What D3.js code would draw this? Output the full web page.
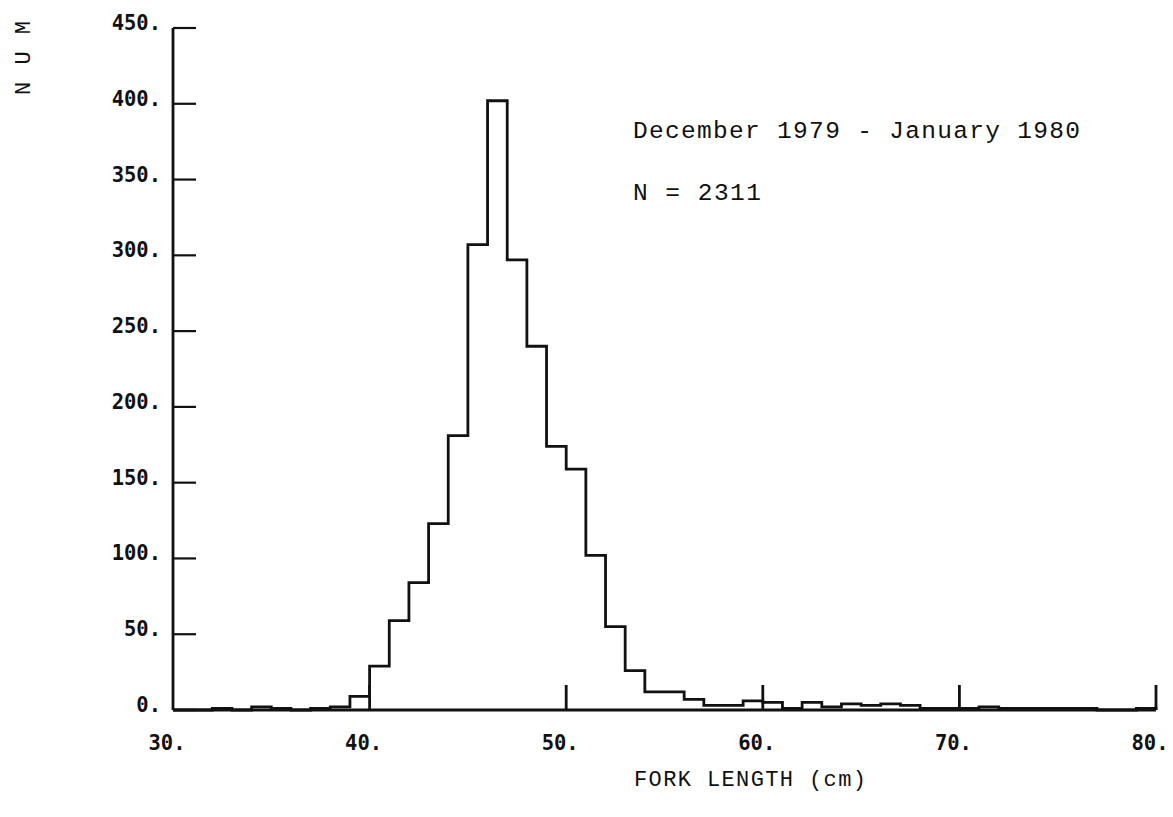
<!DOCTYPE html>
<html>
<head>
<meta charset="utf-8">
<script src="https://cdn.jsdelivr.net/npm/d3@7"></script>
<style>
  html, body { margin: 0; padding: 0; background: #fff; }
  svg { display: block; }
</style>
</head>
<body>
<div id="chart"></div>
<script>
// ---- data ----
const binStarts = d3.range(30, 80); // 1-cm bins, 30..79
const counts = [
  0, 0, 1, 0, 2, 1, 0, 1, 2, 9,          // 30-39
  29, 59, 84, 123, 181, 307, 402, 297, 240, 174, // 40-49
  159, 102, 55, 26, 12, 12, 7, 3, 3, 6,  // 50-59
  5, 1, 5, 2, 4, 3, 4, 3, 1, 1,          // 60-69
  1, 2, 1, 1, 1, 1, 1, 0, 0, 1           // 70-79
];
const xTicks = [30, 40, 50, 60, 70, 80];
const xTickLabels = ["30.", "40.", "50.", "60.", "70.", "80."];
const yTicks = [0, 50, 100, 150, 200, 250, 300, 350, 400, 450];
const yTickLabels = ["0.", "50.", "100.", "150.", "200.", "250.", "300.", "350.", "400.", "450."];
const titleLine1 = "December 1979 - January 1980";
const titleLine2 = "N = 2311";
const xAxisTitle = "FORK LENGTH (cm)";
const yAxisTitle = "N U M";

// ---- layout ----
const W = 1173, H = 817;
const x = d3.scaleLinear().domain([30, 80]).range([173, 1156]);
const y = d3.scaleLinear().domain([0, 450]).range([710, 28]);

const svg = d3.select("#chart").append("svg").attr("width", W).attr("height", H);

const ink = "#111";
const sw = 2.8;

// histogram step outline
const bins = binStarts.map((s, i) => ({x0: s, x1: s + 1, v: counts[i]}));
let pts = [[x(30), y(0)]];
bins.forEach(b => { pts.push([x(b.x0), y(b.v)]); pts.push([x(b.x1), y(b.v)]); });
pts.push([x(80), y(0)]);
svg.append("path")
  .attr("d", d3.line()(pts))
  .attr("fill", "none").attr("stroke", ink).attr("stroke-width", sw)
  .attr("stroke-linejoin", "miter");

// y axis line
svg.append("line").attr("x1", x(30)).attr("x2", x(30)).attr("y1", y(0)).attr("y2", y(450))
  .attr("stroke", ink).attr("stroke-width", sw);
// x axis line
svg.append("line").attr("x1", x(30)).attr("x2", x(80)).attr("y1", y(0)).attr("y2", y(0))
  .attr("stroke", ink).attr("stroke-width", sw);

// y ticks (pointing right) and labels
const yG = svg.append("g");
yG.selectAll("line").data(yTicks).join("line")
  .attr("x1", x(30)).attr("x2", x(30) + 23)
  .attr("y1", d => y(d)).attr("y2", d => y(d))
  .attr("stroke", ink).attr("stroke-width", 2.2);
yG.selectAll("text").data(yTicks).join("text")
  .attr("x", 161).attr("y", d => y(d) + 2)
  .attr("text-anchor", "end")
  .attr("font-family", "DejaVu Sans Mono").attr("font-weight", "bold")
  .attr("font-size", 20.5).attr("fill", ink)
  .text((d, i) => yTickLabels[i]);

// x ticks (pointing up) and labels
const xG = svg.append("g");
xG.selectAll("line").data(xTicks.filter(d => d > 30)).join("line")
  .attr("x1", d => x(d)).attr("x2", d => x(d))
  .attr("y1", y(0)).attr("y2", y(0) - 25)
  .attr("stroke", ink).attr("stroke-width", sw);
xG.selectAll("text").data(xTicks).join("text")
  .attr("x", d => x(d) - 6).attr("y", 750)
  .attr("text-anchor", "middle")
  .attr("font-family", "DejaVu Sans Mono").attr("font-weight", "bold")
  .attr("font-size", 20.5).attr("fill", ink)
  .text((d, i) => xTickLabels[i]);

// annotations
svg.append("text").attr("x", 633).attr("y", 138)
  .attr("font-family", "Liberation Mono").attr("font-size", 24.5).attr("fill", ink)
  .attr("textLength", 447).attr("lengthAdjust", "spacing")
  .text(titleLine1);
svg.append("text").attr("x", 633).attr("y", 200)
  .attr("font-family", "Liberation Mono").attr("font-size", 24.5).attr("fill", ink)
  .attr("textLength", 128).attr("lengthAdjust", "spacing")
  .text(titleLine2);

// x axis title
svg.append("text").attr("x", 634).attr("y", 786)
  .attr("font-family", "Liberation Mono").attr("font-size", 22).attr("fill", ink)
  .attr("textLength", 232).attr("lengthAdjust", "spacing")
  .text(xAxisTitle);

// y axis title (rotated)
svg.append("text")
  .attr("transform", "translate(30,57) rotate(-90)")
  .attr("text-anchor", "middle")
  .attr("font-family", "Liberation Mono").attr("font-size", 22).attr("fill", ink)
  .attr("letter-spacing", 2)
  .text(yAxisTitle);
</script>
</body>
</html>
